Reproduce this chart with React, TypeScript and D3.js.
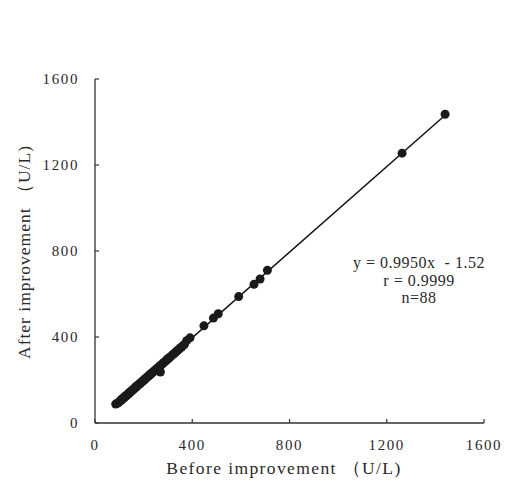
import React from "react";
import * as d3 from "d3";

const before: number[] = [
  85, 92, 98, 103, 108, 112, 115, 118, 121, 124, 127, 130, 133, 136, 139, 142, 145, 148, 151, 154,
  157, 160, 163, 166, 169, 172, 175, 178, 181, 184, 187, 190, 193, 196, 199, 202, 205, 208, 212, 216,
  220, 224, 228, 232, 236, 240, 244, 248, 252, 256, 260, 265, 270, 275, 280, 285, 290, 296, 302, 308,
  314, 320, 326, 332, 338, 344, 350, 356, 362, 368, 110, 140, 170, 200, 230, 300,
  377, 391, 448, 487, 507, 591, 654, 679, 709, 269, 1263, 1440,
];
const after: number[] = [
  88, 92, 96, 103, 106, 111, 115, 116, 121, 122, 127, 128, 132, 134, 139, 140, 145, 146, 150, 153,
  155, 159, 161, 166, 167, 170, 175, 176, 180, 183, 185, 190, 191, 194, 198, 200, 205, 206, 210, 215,
  218, 223, 226, 231, 234, 239, 241, 247, 250, 255, 257, 264, 268, 272, 279, 283, 288, 294, 300, 306,
  312, 318, 323, 330, 336, 341, 349, 353, 360, 366, 111, 137, 170, 197, 229, 299,
  383, 396, 452, 488, 508, 588, 645, 670, 710, 237, 1255, 1436,
];
const xTicks = [0, 400, 800, 1200, 1600];
const yTicks = [0, 400, 800, 1200, 1600];
const slope = 0.995;
const intercept = -1.52;
const annotation = ["y = 0.9950x  - 1.52", "r = 0.9999", "n=88"];
const xTitle = "Before improvement （U/L)";
const yTitle = "After improvement （U/L)";

const FONT = "'Liberation Serif', 'Times New Roman', serif";

export default function App() {
  const x = d3.scaleLinear().domain([0, 1600]).range([95, 484]);
  const y = d3.scaleLinear().domain([0, 1600]).range([423, 79]);
  const xMin = d3.min(before) as number;
  const xMax = d3.max(before) as number;
  const line = d3
    .line<number>()
    .x((d) => x(d))
    .y((d) => y(slope * d + intercept));
  const pts = before.map((b, i) => ({ b, a: after[i] }));
  const txt = { fontFamily: FONT, fill: "#2a2a2a" } as React.CSSProperties;
  return (
    <svg
      width={506}
      height={489}
      style={{ position: "absolute", left: 0, top: 0, background: "#fff", fontFamily: FONT }}
    >
      <rect width={506} height={489} fill="#fff" />
      <line x1={x(0)} x2={x(1600)} y1={y(0)} y2={y(0)} stroke="#333" strokeWidth={1.3} />
      <line x1={x(0)} x2={x(0)} y1={y(0)} y2={y(1600)} stroke="#333" strokeWidth={1.3} />
      {xTicks.map((t) => (
        <g key={"xt" + t}>
          <line x1={x(t)} x2={x(t)} y1={y(0)} y2={y(0) - 4} stroke="#333" strokeWidth={1.2} />
          <text x={x(t)} y={450} textAnchor="middle" fontSize={15} letterSpacing={1.6} style={txt}>
            {t}
          </text>
        </g>
      ))}
      {yTicks.map((t) => (
        <g key={"yt" + t}>
          <line x1={x(0)} x2={x(0) + 4} y1={y(t)} y2={y(t)} stroke="#333" strokeWidth={1.2} />
          <text
            x={79}
            y={y(t)}
            dy="0.35em"
            textAnchor="end"
            fontSize={15}
            letterSpacing={1.6}
            style={txt}
          >
            {t}
          </text>
        </g>
      ))}
      <path d={line([xMin, xMax]) as string} stroke="#111" strokeWidth={1.5} fill="none" />
      {pts.map((p, i) => (
        <circle key={i} cx={x(p.b)} cy={y(p.a)} r={4.5} fill="#1a1a1a" />
      ))}
      <text
        x={419}
        y={268}
        fontSize={16}
        letterSpacing={0.5}
        textAnchor="middle"
        style={{ ...txt, whiteSpace: "pre" }}
      >
        {annotation[0]}
      </text>
      <text x={419} y={286} fontSize={16} letterSpacing={0.5} textAnchor="middle" style={txt}>
        {annotation[1]}
      </text>
      <text x={419} y={303} fontSize={16} letterSpacing={0.5} textAnchor="middle" style={txt}>
        {annotation[2]}
      </text>
      <text x={284} y={474} textAnchor="middle" fontSize={17.5} letterSpacing={1.4} style={txt}>
        {xTitle}
      </text>
      <text
        transform={`translate(30,252) rotate(-90)`}
        textAnchor="middle"
        fontSize={17.5}
        letterSpacing={1}
        style={txt}
      >
        {yTitle}
      </text>
    </svg>
  );
}
